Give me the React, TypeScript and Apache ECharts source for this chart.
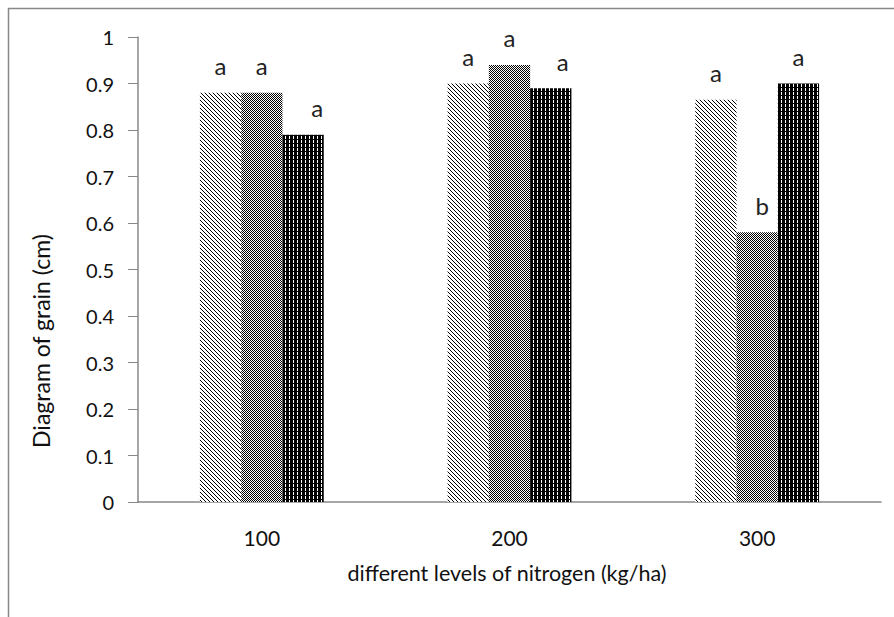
import React, { useEffect, useRef } from "react";
import * as echarts from "echarts";

const categories = ["100", "200", "300"];
const seriesA = [0.88, 0.9, 0.865];
const seriesB = [0.88, 0.94, 0.58];
const seriesC = [0.79, 0.89, 0.9];
const lettersA = ["a", "a", "a"];
const lettersB = ["a", "a", "b"];
const lettersC = ["a", "a", "a"];
const labelShiftA = [0, 0, 0];
const labelShiftB = [0, 0, 5];
const labelShiftC = [14, 12, 0];

const FONT = "Lato, 'Open Sans', 'Liberation Sans', sans-serif";

function makeTile(w: number, h: number, bg: string, fg: string, pts: number[][]) {
  const c = document.createElement("canvas");
  c.width = w;
  c.height = h;
  const ctx = c.getContext("2d")!;
  ctx.fillStyle = bg;
  ctx.fillRect(0, 0, w, h);
  ctx.fillStyle = fg;
  pts.forEach(([x, y]) => ctx.fillRect(x, y, 1, 1));
  return { image: c, repeat: "repeat", imageWidth: w, imageHeight: h } as any;
}

export default function App() {
  const ref = useRef<HTMLDivElement>(null);
  useEffect(() => {
    if (!ref.current) return;
    const chart = echarts.init(ref.current, undefined, { renderer: "svg" });

    const diag = makeTile(4, 4, "#ffffff", "#000000", [[0, 0], [1, 1], [2, 2], [3, 3]]);
    const checker = makeTile(2, 2, "#ffffff", "#000000", [[0, 0], [1, 1]]);
    const vert = makeTile(4, 4, "#000000", "#ffffff", [[1, 0], [1, 1], [1, 2]]);

    const mk = (vals: number[], letters: string[], shifts: number[], color: any, name: string) => ({
      type: "bar",
      name,
      barGap: "0%",
      barCategoryGap: "50%",
      itemStyle: { color },
      label: {
        show: true,
        position: "top",
        distance: 15,
        fontFamily: FONT,
        fontSize: 24,
        color: "#222",
      },
      data: vals.map((v, i) => ({
        value: v,
        label: { formatter: letters[i], offset: [shifts[i], 0], fontSize: 24 },
      })),
    });

    chart.setOption({
      animation: false,
      backgroundColor: "#ffffff",
      grid: { left: 138, right: 13, top: 37, bottom: 115, containLabel: false },
      xAxis: {
        type: "category",
        data: categories,
        axisLine: { lineStyle: { color: "#888888", width: 1.5 } },
        axisTick: { show: false },
        axisLabel: { margin: 25, fontSize: 21, fontFamily: FONT, color: "#111" },
      },
      yAxis: {
        type: "value",
        min: 0,
        max: 1,
        interval: 0.1,
        splitLine: { show: false },
        axisLine: { show: true, lineStyle: { color: "#888888", width: 1.5 } },
        axisTick: { show: true, inside: false, length: 10, lineStyle: { color: "#888888" } },
        axisLabel: { margin: 24, fontSize: 20, fontFamily: FONT, color: "#111" },
      },
      graphic: [
        {
          type: "rect",
          silent: true,
          shape: { x: 8.5, y: 8.5, width: 1000, height: 1000 },
          style: { fill: "none", stroke: "#888888", lineWidth: 1.5 },
        },
        {
          type: "text",
          x: 41,
          y: 341,
          rotation: Math.PI / 2,
          style: {
            text: "Diagram of grain (cm)",
            fontFamily: FONT,
            fontSize: 23,
            fill: "#111",
            align: "center",
            verticalAlign: "middle",
          },
        },
        {
          type: "text",
          x: 507,
          y: 573,
          style: {
            text: "different levels of nitrogen (kg/ha)",
            fontFamily: FONT,
            fontSize: 21.5,
            fill: "#111",
            align: "center",
            verticalAlign: "middle",
          },
        },
      ],
      series: [
        mk(seriesA, lettersA, labelShiftA, diag, "A"),
        mk(seriesB, lettersB, labelShiftB, checker, "B"),
        mk(seriesC, lettersC, labelShiftC, vert, "C"),
      ],
    });
    return () => chart.dispose();
  }, []);
  return (
    <div
      ref={ref}
      style={{ position: "fixed", left: 0, top: 0, width: 894, height: 617, background: "#fff" }}
    />
  );
}
